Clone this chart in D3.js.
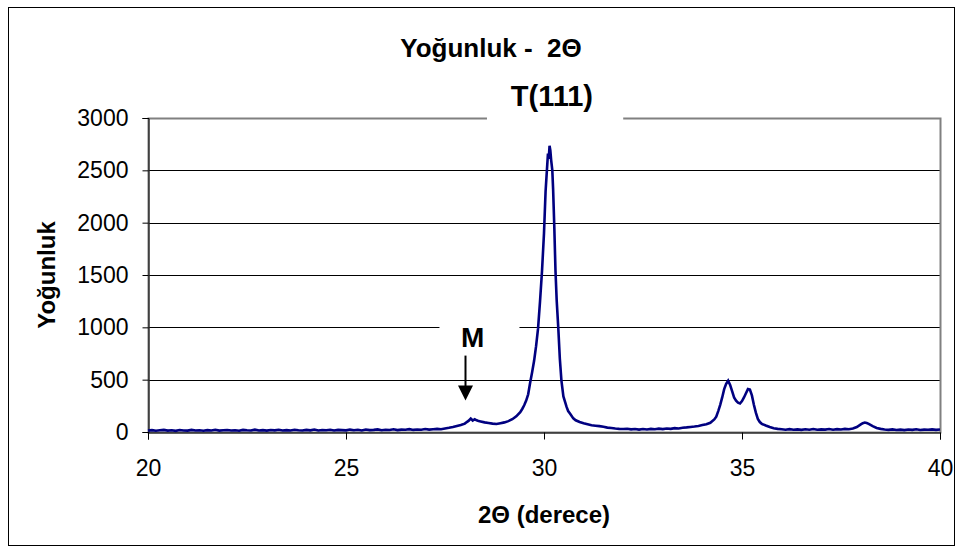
<!DOCTYPE html>
<html>
<head>
<meta charset="utf-8">
<script src="https://cdn.jsdelivr.net/npm/d3@7"></script>
<style>
  body { margin: 0; background: #fff; }
  svg text { font-family: 'Liberation Sans', Arial, sans-serif; }
</style>
</head>
<body>
<div id="chart"></div>
<script>
// XRD scan: [2theta, counts]
const scan = [
  [20.0,14],[20.1,18],[20.2,12],[20.3,16],[20.4,20],[20.5,13],[20.6,17],[20.7,11],[20.8,19],[20.9,15],
  [21.0,13],[21.1,20],[21.2,14],[21.3,17],[21.4,12],[21.5,18],[21.6,15],[21.7,21],[21.8,13],[21.9,16],
  [22.0,19],[22.1,14],[22.2,17],[22.3,12],[22.4,20],[22.5,16],[22.6,14],[22.7,22],[22.8,15],[22.9,18],
  [23.0,13],[23.1,19],[23.2,16],[23.3,21],[23.4,14],[23.5,18],[23.6,15],[23.7,22],[23.8,17],[23.9,14],
  [24.0,20],[24.1,16],[24.2,23],[24.3,15],[24.4,19],[24.5,17],[24.6,22],[24.7,14],[24.8,20],[24.9,18],
  [25.0,16],[25.1,23],[25.2,17],[25.3,21],[25.4,15],[25.5,24],[25.6,18],[25.7,20],[25.8,25],[25.9,17],
  [26.0,22],[26.1,19],[26.2,26],[26.3,18],[26.4,23],[26.5,21],[26.6,27],[26.7,20],[26.8,24],[26.9,22],
  [27.0,28],[27.1,23],[27.2,27],[27.3,30],[27.4,26],[27.5,33],[27.6,40],[27.7,48],[27.8,58],[27.9,66],
  [28.0,80],[28.05,95],[28.1,108],[28.15,128],[28.2,110],[28.25,122],[28.3,112],[28.35,104],[28.4,100],
  [28.5,92],[28.6,86],[28.7,80],[28.8,76],[28.9,84],[29.0,92],[29.1,104],[29.2,122],[29.3,150],[29.4,190],
  [29.45,220],[29.5,255],[29.55,300],[29.6,360],[29.65,470],[29.7,570],[29.75,680],[29.8,820],[29.85,990],
  [29.9,1250],[29.95,1540],[30.0,1900],[30.04,2300],[30.07,2480],[30.1,2660],[30.12,2610],[30.14,2735],
  [30.16,2690],[30.18,2600],[30.21,2500],[30.23,2320],[30.26,1960],[30.29,1540],[30.32,1260],[30.36,1000],
  [30.4,700],[30.44,490],[30.49,340],[30.53,290],[30.57,240],[30.61,200],[30.66,175],[30.74,130],[30.8,112],
  [30.9,95],[31.0,84],[31.1,74],[31.2,64],[31.3,60],[31.4,56],[31.5,50],[31.6,42],[31.7,38],[31.8,33],[31.9,30],
  [32.0,28],[32.1,31],[32.2,25],[32.3,29],[32.4,23],[32.5,28],[32.6,24],[32.7,30],[32.8,26],[32.9,32],
  [33.0,28],[33.1,34],[33.2,30],[33.3,37],[33.4,34],[33.5,41],[33.6,44],[33.7,48],[33.8,52],[33.9,58],
  [34.0,66],[34.1,74],[34.2,88],[34.3,120],[34.35,146],[34.4,200],[34.45,260],[34.5,330],[34.55,410],
  [34.6,460],[34.65,490],[34.7,450],[34.75,390],[34.8,330],[34.85,300],[34.9,280],[34.95,272],[35.0,295],
  [35.05,330],[35.1,370],[35.15,410],[35.2,405],[35.25,350],[35.3,260],[35.35,185],[35.4,125],[35.45,95],
  [35.5,78],[35.6,62],[35.7,48],[35.8,36],[35.9,30],
  [36.0,26],[36.1,22],[36.2,27],[36.3,21],[36.4,25],[36.5,20],[36.6,26],[36.7,22],[36.8,28],[36.9,21],
  [37.0,25],[37.1,23],[37.2,29],[37.3,22],[37.4,27],[37.5,24],[37.6,30],[37.7,27],[37.8,34],[37.9,48],
  [38.0,72],[38.05,84],[38.1,90],[38.15,86],[38.2,78],[38.3,56],[38.4,38],[38.5,30],[38.6,24],[38.7,20],
  [38.8,25],[38.9,19],[39.0,23],[39.1,18],[39.2,24],[39.3,20],[39.4,26],[39.5,19],[39.6,23],[39.7,21],
  [39.8,25],[39.9,20],[40.0,24]
]

const xTicks = [20, 25, 30, 35, 40]
const yTicks = [0, 500, 1000, 1500, 2000, 2500, 3000]

const chartTitle = 'Yoğunluk -  2Θ'
const xTitle = '2Θ (derece)'
const yTitle = 'Yoğunluk'

// peak labels: text, 2theta of label centre, grid level it sits on
const peakLabels = [
  { text: 'T(111)', at: 30.2, level: 3000, boxFrom: 28.56, boxTo: 32.0 },
  { text: 'M', at: 28.2, level: 1000, boxFrom: 27.36, boxTo: 29.38 }
]
// arrow under M: 2theta, from count, to count
const arrow = { at: 28.0, from: 730, to: 300 }

let width = 965
let height = 552
let margin = { top: 118, left: 148, right: 25, bottom: 120 }
let plotW = width - margin.left - margin.right
let plotH = height - margin.top - margin.bottom

let root = d3.select('#chart')
  .append('svg')
  .attr('width', width)
  .attr('height', height)
  .style('background', '#fff')

// outer frame
root.append('rect')
  .attr('x', 8.5).attr('y', 7.5)
  .attr('width', 946).attr('height', 538)
  .attr('fill', 'none')
  .attr('stroke', '#000')

let svg = root.append('g')
  .attr('transform', 'translate(' + margin.left + ',' + margin.top + ')')

let x = d3.scaleLinear().domain([20, 40]).range([0, plotW])
let y = d3.scaleLinear().domain([0, 3000]).range([plotH, 0])

// gridlines
svg.append('g')
  .selectAll('line')
  .data(yTicks.filter(d => d > 0 && d < 3000))
  .enter().append('line')
  .attr('x1', 0).attr('x2', plotW)
  .attr('y1', d => Math.round(y(d)) + 0.5)
  .attr('y2', d => Math.round(y(d)) + 0.5)
  .attr('stroke', '#000')
  .attr('stroke-width', 1)

// plot area border (grey)
svg.append('rect')
  .attr('x', 0.5).attr('y', 0.5)
  .attr('width', plotW).attr('height', plotH)
  .attr('fill', 'none')
  .attr('stroke', '#808080')
  .attr('stroke-width', 2)

// axes
let yAxis = d3.axisLeft(y).tickValues(yTicks).tickFormat(d3.format('d')).tickSize(6).tickPadding(14)
let xAxis = d3.axisBottom(x).tickValues(xTicks).tickFormat(d3.format('d')).tickSize(7).tickPadding(20)

let yg = svg.append('g').attr('transform', 'translate(0.5,0)').call(yAxis)
let xg = svg.append('g').attr('transform', 'translate(0,' + (plotH + 0.5) + ')').call(xAxis)

;[yg, xg].forEach(g => {
  g.select('.domain').attr('stroke', '#000')
  g.selectAll('.tick line').attr('stroke', '#000')
  g.selectAll('.tick text')
    .attr('fill', '#000')
    .style('font-size', '23px')
    .style('font-family', "'Liberation Sans', Arial, sans-serif")
})

// label boxes that cut the grid lines
peakLabels.forEach(p => {
  svg.append('rect')
    .attr('x', x(p.boxFrom))
    .attr('y', y(p.level) - 22)
    .attr('width', x(p.boxTo) - x(p.boxFrom))
    .attr('height', 26)
    .attr('fill', '#fff')
})

// scan line
let line = d3.line()
  .x(d => x(d[0]))
  .y(d => y(d[1]))

svg.append('path')
  .datum(scan)
  .attr('d', line)
  .attr('fill', 'none')
  .attr('stroke', '#000080')
  .attr('stroke-width', 2.6)
  .attr('stroke-linejoin', 'miter')

// peak label text
svg.append('text')
  .attr('x', x(peakLabels[0].at))
  .attr('y', y(peakLabels[0].level) - 12)
  .attr('text-anchor', 'middle')
  .style('font-size', '29px')
  .style('font-weight', 'bold')
  .text(peakLabels[0].text)

svg.append('text')
  .attr('x', x(peakLabels[1].at))
  .attr('y', y(peakLabels[1].level) + 20)
  .attr('text-anchor', 'middle')
  .style('font-size', '28px')
  .style('font-weight', 'bold')
  .text(peakLabels[1].text)

// arrow
let ax = Math.round(x(arrow.at)) + 0.5
svg.append('line')
  .attr('x1', ax).attr('x2', ax)
  .attr('y1', y(arrow.from)).attr('y2', y(arrow.to) - 10)
  .attr('stroke', '#000')
  .attr('stroke-width', 2)
svg.append('path')
  .attr('d', 'M' + (ax - 7.5) + ',' + (y(arrow.to) - 15) +
    'L' + (ax + 7.5) + ',' + (y(arrow.to) - 15) +
    'L' + ax + ',' + y(arrow.to) + 'Z')
  .attr('fill', '#000')

// titles
root.append('text')
  .attr('x', 491)
  .attr('y', 57)
  .attr('text-anchor', 'middle')
  .style('font-size', '26px')
  .style('font-weight', 'bold')
  .style('white-space', 'pre')
  .text(chartTitle)

root.append('text')
  .attr('x', margin.left + plotW / 2)
  .attr('y', 523)
  .attr('text-anchor', 'middle')
  .style('font-size', '24px')
  .style('font-weight', 'bold')
  .text(xTitle)

root.append('text')
  .attr('transform', 'translate(55,' + (margin.top + plotH / 2) + ') rotate(-90)')
  .attr('text-anchor', 'middle')
  .style('font-size', '24px')
  .style('font-weight', 'bold')
  .text(yTitle)
</script>
</body>
</html>
